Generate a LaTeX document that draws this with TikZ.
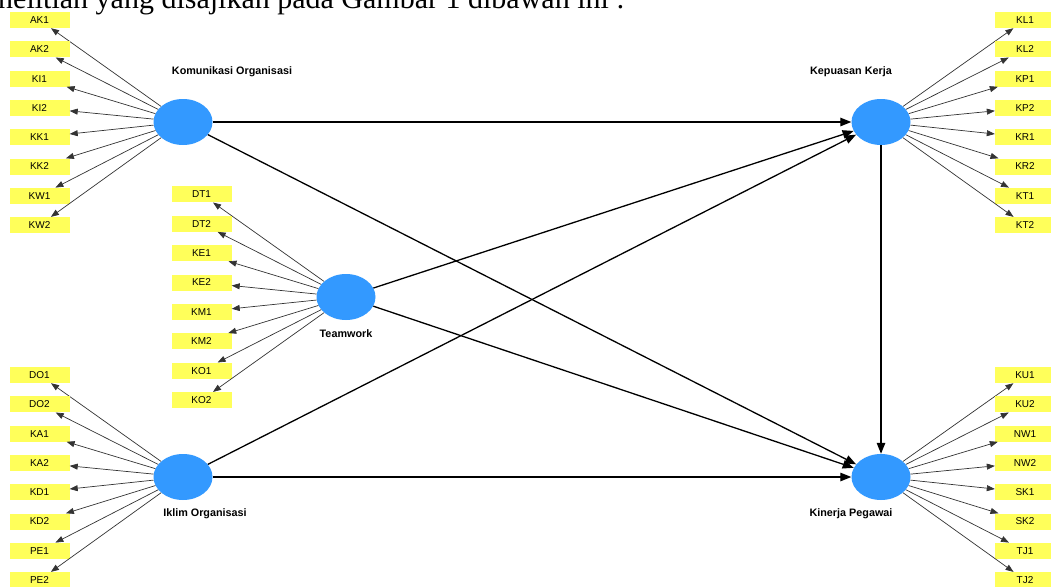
\documentclass[tikz,border=0pt]{standalone}
\usepackage{fontspec}
\setmainfont{Liberation Sans}
\newfontfamily\captionserif{Liberation Serif}
\usetikzlibrary{arrows.meta,shapes.geometric}
\definecolor{latentblue}{RGB}{51,153,255}
\definecolor{itemyellow}{RGB}{255,255,90}

\begin{document}
\begin{tikzpicture}[x=1pt,y=-1pt,
  latent/.style={ellipse, fill=latentblue, minimum width=59pt, minimum height=46pt, inner sep=0pt},
  item/.style={fill=itemyellow, minimum width=60pt, minimum height=16pt, inner sep=0pt,
    font=\fontsize{10}{11}\selectfont},
  lvlabel/.style={font=\bfseries\fontsize{10.8}{12}\selectfont, inner sep=0pt},
  loading/.style={draw=black!80, line width=0.7pt, -{Triangle[length=8pt,width=6pt]}},
  structural/.style={draw=black, line width=1.3pt, -{Triangle[length=11pt,width=8.5pt]}}]
\useasboundingbox (0,0) rectangle (1051,586);

% running text above the model
\node[anchor=base west, inner sep=0pt, font=\captionserif\fontsize{30}{30}\selectfont]
  (caption) at (-2,8.5) {nelitian yang disajikan pada Gambar 1 dibawah ini :};

% latent variables
\node[latent] (KO) at (183,122) {};
\node[latent] (TW) at (346,297) {};
\node[latent] (IO) at (183,477) {};
\node[latent] (KK) at (881,122) {};
\node[latent] (KP) at (881,477) {};

\node[lvlabel] (KOl) at (232,72) {Komunikasi Organisasi};
\node[lvlabel] (TWl) at (346,334) {Teamwork};
\node[lvlabel] (IOl) at (205,514) {Iklim Organisasi};
\node[lvlabel] (KKl) at (851,72) {Kepuasan Kerja};
\node[lvlabel] (KPl) at (851,514) {Kinerja Pegawai};

% indicators and loadings
\foreach \n [count=\i from 0] in {AK1,AK2,KI1,KI2,KK1,KK2,KW1,KW2} {
  \node[item] (i\n) at (39.5,20+29.3*\i) {\n};
  \draw[loading] (KO) -- (i\n);
}
\foreach \n [count=\i from 0] in {DT1,DT2,KE1,KE2,KM1,KM2,KO1,KO2} {
  \node[item] (i\n) at (201.5,194.3+29.4*\i) {\n};
  \draw[loading] (TW) -- (i\n);
}
\foreach \n [count=\i from 0] in {DO1,DO2,KA1,KA2,KD1,KD2,PE1,PE2} {
  \node[item] (i\n) at (39.5,375+29.3*\i) {\n};
  \draw[loading] (IO) -- (i\n);
}
\foreach \n [count=\i from 0] in {KL1,KL2,KP1,KP2,KR1,KR2,KT1,KT2} {
  \node[item] (i\n) at (1025,20+29.3*\i) {\n};
  \draw[loading] (KK) -- (i\n);
}
\foreach \n [count=\i from 0] in {KU1,KU2,NW1,NW2,SK1,SK2,TJ1,TJ2} {
  \node[item] (i\n) at (1025,375+29.3*\i) {\n};
  \draw[loading] (KP) -- (i\n);
}

% structural paths
\draw[structural] (KO) -- (KK);
\draw[structural] (KO) -- (KP);
\draw[structural] (TW) -- (KK);
\draw[structural] (TW) -- (KP);
\draw[structural] (IO) -- (KK);
\draw[structural] (IO) -- (KP);
\draw[structural] (KK) -- (KP);
\end{tikzpicture}
\end{document}
